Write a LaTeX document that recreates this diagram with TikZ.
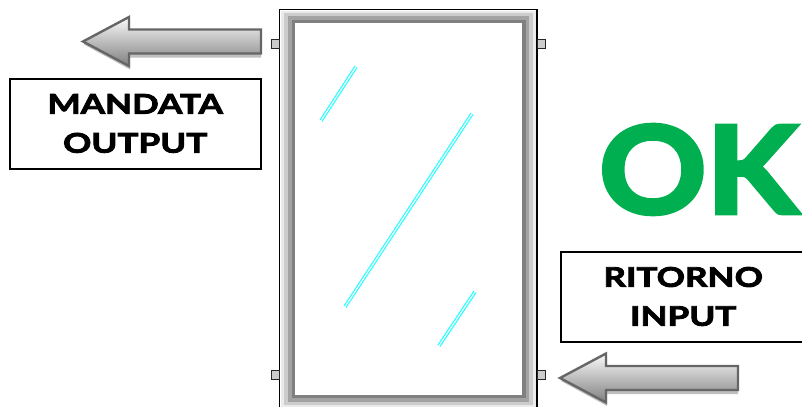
\documentclass[tikz,border=0pt]{standalone}
\usepackage{fontspec}
\setmainfont{Lato}
\newfontfamily\heavyfont[BoldFeatures={FakeBold=3.2,FakeStretch=1.3}]{Lato}
\newfontfamily\hugefont[BoldFeatures={FakeBold=3.5,FakeStretch=1.1}]{Lato}
\definecolor{okgreen}{HTML}{00B050}
\definecolor{glass}{HTML}{22FFFF}
\tikzset{
  labelbox/.style={draw=black,line width=2pt,fill=white,anchor=north west,inner sep=0pt,align=center,
    font=\fontsize{27}{39}\selectfont\heavyfont\bfseries},
  port/.style={draw=black!85,line width=.9pt,fill=black!20,minimum width=8pt,minimum height=9pt,inner sep=0pt},
  fatarrow/.style={draw=black!60,line width=2.4pt,miter limit=4,top color=black!2,bottom color=black!50,shading angle=0},
  arrowshadow/.style={fill=black!25},
  glassline/.style={draw=glass,line width=1pt},
}
\newcommand{\fatarrowpath}[1]{%
  \begin{scope}[shift={(#1)}]
    \fill[arrowshadow] (1,3) -- (47,-21) -- (47,-9) -- (178,-9) -- (178,16) -- (47,16) -- (47,28) -- cycle;
    \shade[fatarrow] (0,0) -- (46,-24.5) -- (46,-12) -- (178,-12) -- (178,12) -- (46,12) -- (46,24.5) -- cycle;
  \end{scope}}
\begin{document}
\begin{tikzpicture}[x=1pt,y=-1pt]
\useasboundingbox (0,0) rectangle (802,407);
% window frame
\fill[white] (280,10) rectangle (537,407);
\draw[black,line width=1.8pt] (279.5,407) -- (279.5,9.5) -- (537,9.5) -- (537,407);
\fill[black!8] (281,11) rectangle (535.5,407);
\fill[black!20] (284,13) rectangle (533,405);
\fill[black!36] (288,16) rectangle (529,401.5);
\fill[black!50] (292,20) rectangle (525.5,398);
\node[draw=none,fill=white,anchor=north west,minimum width=227pt,minimum height=372pt,inner sep=0pt] (pane) at (295,23) {};
% glass marks
\draw[glassline] (320,120) -- (355,66);
\draw[glassline] (322,121.5) -- (357,67.5);
\draw[glassline] (344,306) -- (471,113);
\draw[glassline] (346,307.5) -- (473,114.5);
\draw[glassline] (438,345) -- (474,291);
\draw[glassline] (440,346.5) -- (476,292.5);
% ports
\node[port] (pa) at (275,43.5) {};
\node[port] (pb) at (541,43.5) {};
\node[port] (pc) at (275,375) {};
\node[port] (pd) at (541,375) {};
% arrows
\fatarrowpath{83,41.5}
\fatarrowpath{560,378}
% labels
\node[labelbox,minimum width=251pt,minimum height=90pt] (mandata) at (8.7,77.5) {MANDATA\\OUTPUT};
\node[labelbox,minimum width=245pt,minimum height=90pt] (ritorno) at (559.7,250.5) {RITORNO\\INPUT};
\node[text=okgreen,font=\fontsize{121}{121}\selectfont\hugefont\bfseries,inner sep=0pt] (ok) at (698.5,169.5) {OK};
\end{tikzpicture}
\end{document}
